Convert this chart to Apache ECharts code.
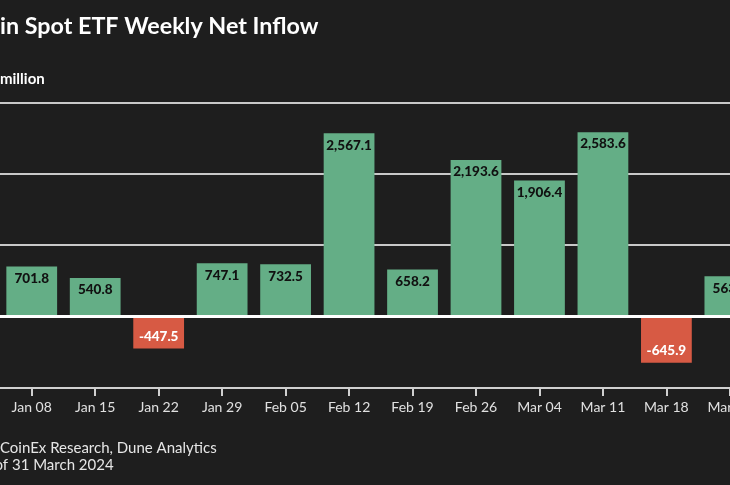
<!DOCTYPE html>
<html>
<head>
<meta charset="utf-8">
<script src="https://cdn.jsdelivr.net/npm/echarts@6/dist/echarts.min.js"></script>
<style>
html,body{margin:0;padding:0;background:#1e1e1e;overflow:hidden;width:730px;height:485px;}
#chart{width:800px;height:485px;position:absolute;left:0;top:0;}
</style>
</head>
<body>
<div id="chart"></div>
<script>
const categories = ['Jan 08','Jan 15','Jan 22','Jan 29','Feb 05','Feb 12','Feb 19','Feb 26','Mar 04','Mar 11','Mar 18','Mar 25'];
const inflows = [701.8, 540.8, -447.5, 747.1, 732.5, 2567.1, 658.2, 2193.6, 1906.4, 2583.6, -645.9, 563.4];
const yTicks = [-1000, 0, 1000, 2000, 3000];

const titleText = 'Bitcoin Spot ETF Weekly Net Inflow';
const unitText = 'US$ million';
const sourceText = 'Source: CoinEx Research, Dune Analytics';
const noteText = 'Data as of 31 March 2024';

const FF = 'Lato, "Noto Sans", sans-serif';
function measure(text, font){
  const ctx = document.createElement('canvas').getContext('2d');
  ctx.font = font; return ctx.measureText(text).width;
}
const titleFont = 'bold 23.3px ' + FF;
const unitFont = 'bold 15px ' + FF;
const srcFont = '15px ' + FF;

const GREEN = '#64ae86', RED = '#d75a44', AXIS = '#d0d0d0';
const yMin = yTicks[0], yMax = yTicks[yTicks.length-1];

const chart = echarts.init(document.getElementById('chart'));
chart.setOption({
  backgroundColor: '#1e1e1e',
  animation: false,
  grid: {left: -3.4, right: 38.4, top: 102.4, bottom: 97, containLabel: false},
  xAxis: {
    type: 'category', data: categories, z: 5,
    axisLine: {show: true, onZero: false, lineStyle: {color: AXIS, width: 2}},
    axisTick: {show: true, inside: false, interval: 0, alignWithLabel: true, length: 8, lineStyle: {color: AXIS, width: 2}},
    axisLabel: {color: '#e0e0e0', fontSize: 14, fontFamily: FF, margin: 12, interval: 0}
  },
  yAxis: {
    type: 'value', min: yMin, max: yMax, interval: 1000,
    axisLabel: {show: false}, axisLine: {show: false}, axisTick: {show: false},
    splitLine: {lineStyle: {color: '#c8c8c8', width: 2}}
  },
  series: [{
    type: 'bar', barCategoryGap: '20%',
    data: inflows.map(v => ({
      value: v,
      itemStyle: {color: v >= 0 ? GREEN : RED},
      label: {
        show: true,
        position: v >= 0 ? 'insideTop' : 'insideBottom',
        distance: 5,
        color: v >= 0 ? '#111' : '#fff',
        fontWeight: 900, fontSize: 13.5, fontFamily: FF,
        formatter: p => p.value.toLocaleString('en-US', {minimumFractionDigits: 1, maximumFractionDigits: 1})
      }
    })),
    markLine: {
      silent: true, symbol: 'none', label: {show: false},
      lineStyle: {color: '#ffffff', width: 3, type: 'solid'},
      data: [{yAxis: 0}]
    }
  }],
  graphic: [
    {type: 'text', left: -measure('Bitco', titleFont), top: 15,
      style: {text: titleText, font: titleFont, fill: '#ffffff'}},
    {type: 'text', left: -measure('US$ ', unitFont), top: 72,
      style: {text: unitText, font: unitFont, fill: '#ffffff'}},
    {type: 'text', left: -measure('Source: ', srcFont), top: 441,
      style: {text: sourceText, font: srcFont, fill: '#e6e6e6'}},
    {type: 'text', left: -measure('Data as o', srcFont) + 3, top: 458,
      style: {text: noteText, font: srcFont, fill: '#e6e6e6'}}
  ]
});
</script>
</body>
</html>
